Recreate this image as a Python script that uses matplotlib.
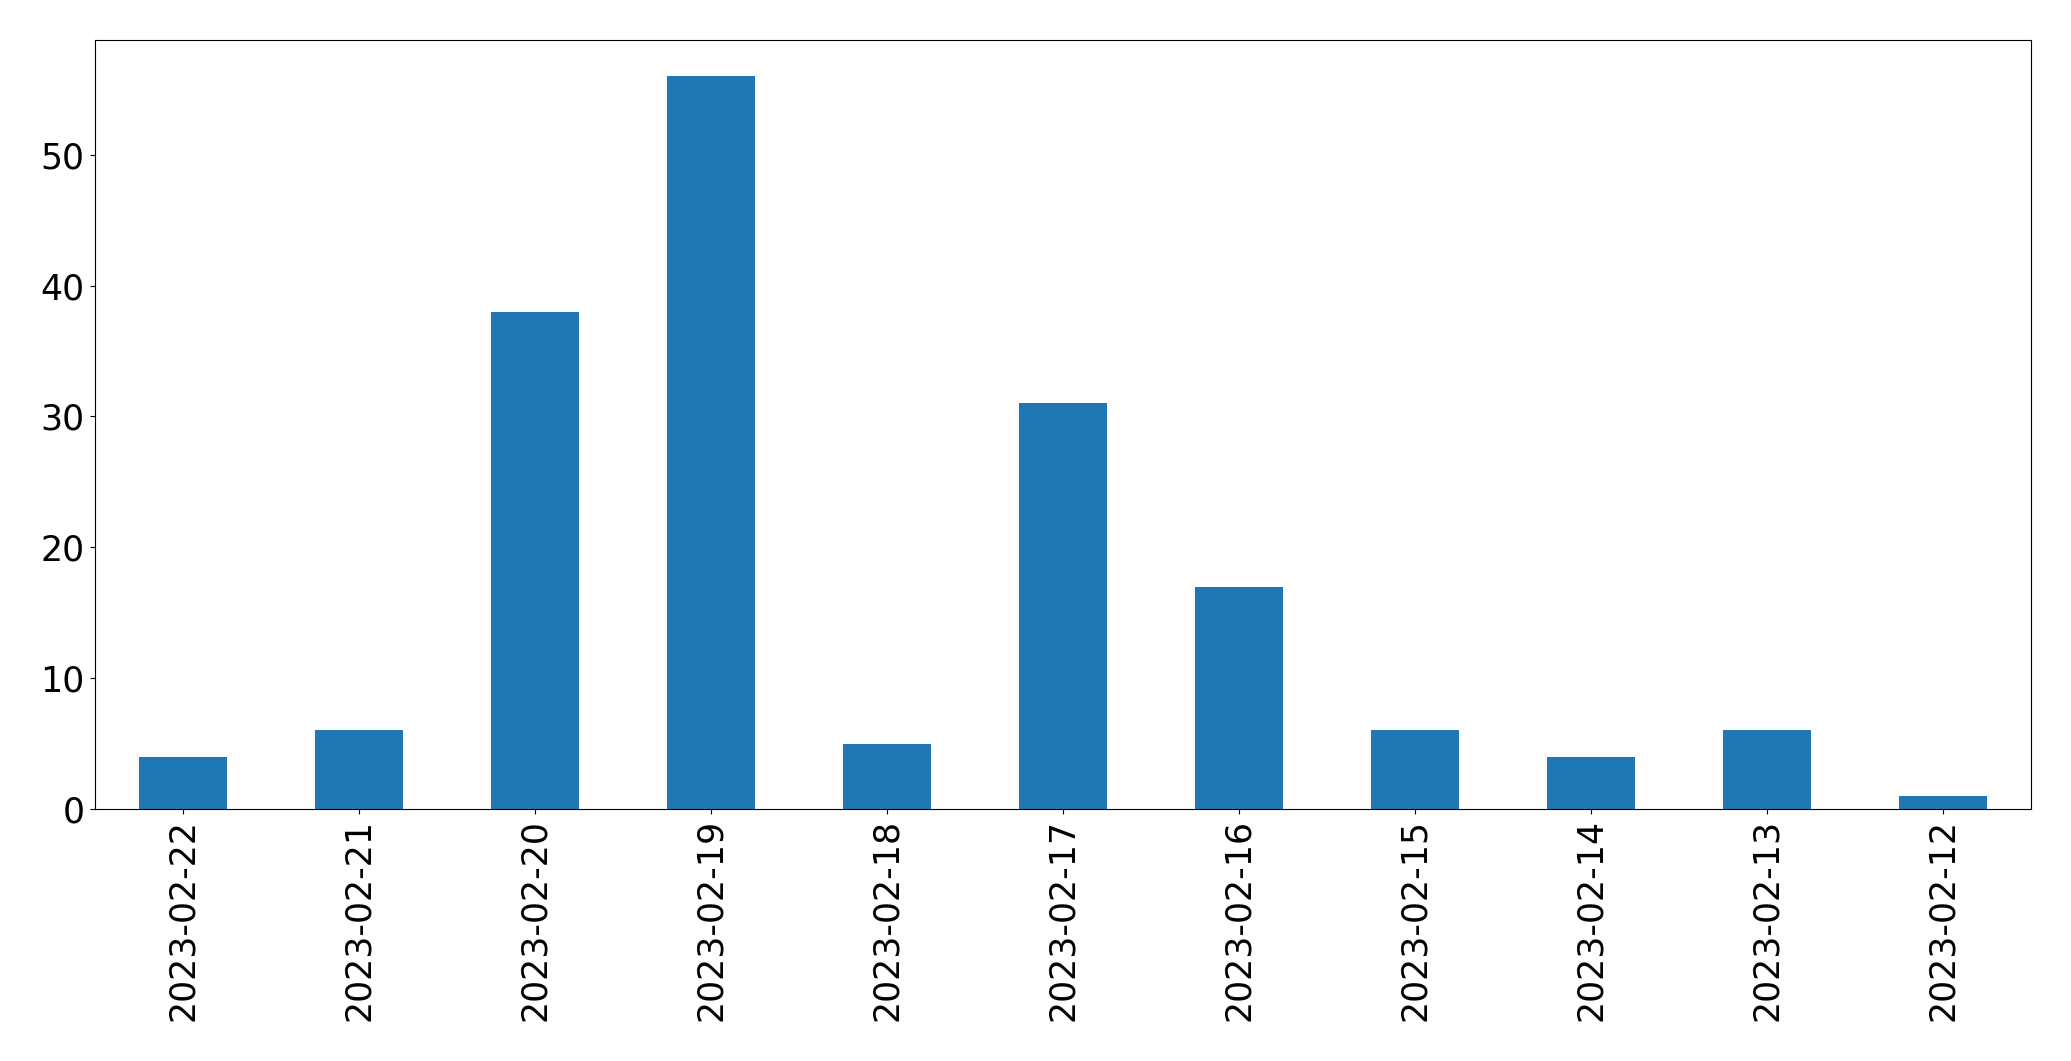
import matplotlib
matplotlib.use("Agg")
import matplotlib.pyplot as plt

dates = ["2023-02-22", "2023-02-21", "2023-02-20", "2023-02-19", "2023-02-18",
         "2023-02-17", "2023-02-16", "2023-02-15", "2023-02-14", "2023-02-13",
         "2023-02-12"]
counts = [4, 6, 38, 56, 5, 31, 17, 6, 4, 6, 1]

fig = plt.figure(figsize=(20.71, 10.61), dpi=100)
ax = fig.add_axes([94.5/2071, 1-809/1061, (2031-94.5)/2071, (809-39.5)/1061])
x = list(range(len(dates)))
ax.bar(x, counts, width=0.5, color="#1f77b4")
ax.set_xlim(-0.5, len(dates)-0.5)
ax.set_ylim(0, max(counts)*1.05)
ax.set_xticks(x)
ax.set_xticklabels(dates, rotation=90)
ax.tick_params(labelsize=25)
fig.savefig("out.png", dpi=100)
